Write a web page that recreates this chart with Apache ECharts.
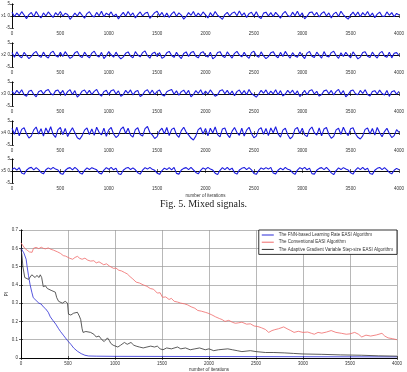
<!DOCTYPE html>
<html><head><meta charset="utf-8">
<script src="https://cdn.jsdelivr.net/npm/echarts@6/dist/echarts.min.js"></script>
<style>html,body{margin:0;padding:0;background:#fff}#c{width:407px;height:372px}</style>
</head><body><div id="c"></div>
<script>
// ---- Mixed signals (sampled every 25 iterations) ----
const mixedStep = 25;
const mixedNames = ['x1','x2','x3','x4','x5'];
const x1 = [1.6,-0.2,1.2,0.1,1.8,0.4,-1.1,0.6,1.5,-0.3,1.9,0.2,-0.8,1.3,0.0,1.7,0.5,-0.6,1.4,0.3,
1.9,-0.1,1.1,0.6,-1.4,-0.2,1.2,0.0,1.6,0.3,-0.9,1.0,1.8,0.2,-0.4,1.5,0.1,2.0,-0.3,1.2,
0.4,1.7,-0.2,0.8,-1.2,0.3,1.5,-0.1,1.9,0.2,1.3,-0.8,0.6,1.7,0.0,1.1,1.6,-1.0,0.2,1.4,
2.0,0.1,1.5,-0.4,1.2,-0.6,0.9,1.8,-0.1,1.3,0.4,-1.3,-0.2,1.4,0.3,1.9,-0.2,1.2,0.1,1.7,
0.5,-0.8,1.4,-0.1,1.9,0.3,-0.5,-1.4,0.6,1.5,0.0,1.2,1.7,0.1,2.1,0.2,1.3,-0.6,1.0,1.6,
-0.1,1.8,-0.3,-1.1,1.2,1.6,0.0,1.4,-0.2,1.5,0.4,-0.9,1.0,1.9,0.2,-0.3,1.6,0.1,2.0,-0.1,
1.3,-1.2,-0.1,1.4,1.7,0.2,1.5,-0.4,1.1,1.8,0.0,1.3,-0.8,0.9,1.6,-0.2,2.0,0.5,-0.5,-1.3,
0.4,1.6,0.1,1.7,-0.3,1.4,0.2,1.9,-0.1,1.2,-0.7,0.8,1.6,0.0,-0.2,1.7,0.3,1.4,-0.3,1.1,0.4];
const x2 = [1.0,-0.9,1.3,-0.4,-1.2,1.1,-0.2,-1.5,-0.6,0.8,1.5,-0.3,-1.0,1.2,-0.5,-1.3,0.9,1.6,-0.2,-0.9,
1.1,-0.6,1.4,-0.1,-1.4,-0.7,0.9,1.5,-0.4,-1.1,1.2,-0.3,-1.2,0.8,1.6,-0.2,-0.8,1.1,-1.5,-0.3,
1.4,0.1,-0.9,1.2,-0.5,-1.6,-0.8,0.7,1.3,-0.4,-1.2,1.4,0.0,-0.8,1.0,1.7,-0.3,-1.3,0.6,1.2,
-0.6,1.0,-1.4,-0.7,0.9,1.5,-0.2,-1.0,1.1,-0.4,-1.5,0.6,1.3,-0.6,1.0,1.5,-0.5,-1.2,0.8,1.4,
-0.2,-0.9,1.2,-1.6,-0.8,1.0,1.4,-0.4,-1.1,1.3,-0.1,-1.3,0.7,1.5,0.0,-0.8,1.1,-0.5,-1.4,1.0,
1.6,-0.2,-1.0,1.3,-0.4,-1.5,-0.7,0.9,1.4,-0.3,-1.2,1.1,-0.6,1.5,-0.1,-1.3,1.0,-0.4,-0.9,1.2,
-0.3,-1.5,0.8,1.5,-0.5,-1.0,1.2,-0.1,-1.3,1.4,-0.4,-0.8,1.0,1.6,-0.2,-1.4,0.9,-0.6,1.1,-0.2,
-1.2,1.3,-0.1,-1.6,-0.9,1.0,1.4,-0.5,-1.0,1.2,-0.3,-1.3,0.8,1.5,-0.4,-0.9,1.2,-1.2,0.7,1.0,-0.2];
const x3 = [1.2,-0.1,1.5,0.2,1.8,-0.3,-0.9,1.1,1.6,-0.2,-1.2,0.9,1.5,0.0,1.4,1.9,0.2,-0.4,1.3,1.7,
0.0,1.5,-0.6,1.0,1.8,-0.2,1.4,-1.3,-0.3,1.2,1.7,0.1,1.5,-0.2,1.1,1.9,0.0,-0.9,1.0,1.6,
-0.3,1.4,1.8,0.0,1.3,-1.0,-0.2,1.5,0.3,1.7,-0.4,1.0,1.5,-1.1,-0.3,1.2,1.8,0.1,1.6,-0.2,
1.1,1.7,-0.3,-0.8,0.9,1.5,1.9,-0.1,1.3,-0.5,1.0,1.6,0.0,1.5,-1.2,-0.2,1.4,0.2,1.8,-0.3,
1.2,0.0,1.7,0.3,-0.9,-0.3,1.4,1.8,0.1,1.5,-0.2,1.2,-0.7,1.0,1.7,0.0,1.4,-0.3,1.9,0.2,
-0.5,-1.3,0.0,1.5,0.3,1.7,-0.2,1.2,0.1,1.8,-0.3,1.4,-0.8,0.0,1.5,0.3,1.6,-0.2,1.3,-1.1,
0.1,1.5,-0.3,1.4,1.8,0.0,1.1,-0.9,-0.2,1.3,1.7,0.1,1.5,-0.4,1.1,1.9,0.0,1.4,-1.2,-0.2,
1.3,1.7,0.1,-0.3,1.5,0.2,1.8,-0.2,-0.8,1.0,1.4,0.0,1.6,0.2,-0.4,1.5,-1.0,0.9,1.4,-0.1,1.1];
const x4 = [2.0,-0.5,2.4,-1.2,1.5,2.2,-0.3,-2.1,-1.2,1.3,2.5,-0.4,1.8,-1.3,2.1,0.0,2.6,-0.6,-1.8,1.4,
2.3,-0.7,1.9,-1.5,0.5,2.2,0.1,-2.0,-2.6,-1.1,1.2,2.1,-0.6,1.7,-1.0,2.4,0.3,-0.8,2.0,-1.4,
1.3,2.3,-0.4,-1.9,-1.0,1.6,2.5,-0.2,2.0,-0.9,-1.7,1.4,2.2,-0.6,-1.3,1.8,2.7,0.2,-0.8,-2.3,
-1.5,0.9,2.0,-0.3,2.3,-1.1,1.5,2.1,-0.7,-1.8,1.0,2.4,0.4,-0.8,-2.1,-2.9,-1.3,1.4,2.2,-0.4,
1.9,-1.2,2.0,0.0,2.5,-0.7,-1.6,1.7,2.1,-0.6,-1.9,0.8,2.3,0.2,-1.0,2.0,-1.3,1.2,2.4,-0.2,
-2.0,-1.3,1.5,2.2,-0.5,1.9,-1.1,2.1,0.1,2.6,-0.4,-1.7,1.2,2.0,-0.7,-2.4,-1.5,1.6,2.3,-0.3,
2.0,-0.8,-1.5,1.4,2.5,0.1,-0.9,2.1,-1.2,1.7,2.3,-0.5,-2.2,-1.4,1.3,2.0,-0.6,2.4,0.2,-1.1,
1.8,2.2,-0.3,-1.8,-2.5,-1.2,1.5,2.1,-0.4,1.9,-0.9,2.3,0.1,-1.6,0.6,2.0,-0.2,-1.9,-1.1,1.4,0.3];
const x5 = [0.6,1.3,0.4,1.4,-0.8,-1.3,0.3,1.2,1.5,0.5,1.4,0.6,-0.6,-1.2,0.5,1.3,0.7,1.5,0.8,0.4,
-1.0,-1.4,0.2,1.1,1.4,0.5,1.5,0.7,-0.7,-1.3,0.3,1.3,0.6,1.4,0.9,0.5,-0.8,-1.2,0.4,1.4,
0.7,1.5,0.5,1.2,-1.1,-1.5,0.3,1.1,1.5,0.6,1.3,0.5,-0.7,-1.3,0.4,1.4,0.8,1.5,0.7,0.3,
-0.9,-1.4,0.2,1.2,0.6,1.4,0.5,1.5,-1.0,-1.3,0.4,1.1,1.4,0.6,1.5,0.5,-0.6,-1.2,0.3,1.3,
0.7,1.5,0.8,0.4,-0.9,-1.5,0.3,1.4,0.6,1.5,0.5,1.2,-0.7,-1.3,0.4,1.1,1.5,0.6,1.4,0.5,
-1.0,-1.4,0.2,1.3,0.7,1.4,0.8,1.5,-0.8,-1.2,0.3,1.2,0.5,1.5,0.7,0.4,-0.7,-1.4,0.4,1.4,
0.8,1.5,0.5,1.2,-1.1,-1.3,0.3,1.1,1.4,0.6,1.5,0.5,-0.8,-1.5,0.2,1.3,0.6,1.4,0.8,0.4,
-0.7,-1.3,0.4,1.4,0.6,1.5,0.5,1.2,-1.0,-1.4,0.3,1.1,1.5,0.6,1.4,0.5,-0.6,-1.2,0.3,1.1,0.5];
const signals = [x1,x2,x3,x4,x5];

// ---- Performance index curves: [iteration, PI] ----
const seriesNames = ['The FNN-based Learning Rate EASI Algorithm','The Conventional EASI Algorithm','The Adaptive Gradient Variable Step-size EASI Algorithm'];
const fnnPI = [[0,0.60],[15,0.59],[30,0.575],[45,0.57],[55,0.54],[65,0.50],[80,0.45],[97,0.40],[115,0.36],[130,0.33],[160,0.315],[190,0.30],[215,0.295],[237,0.28],[260,0.27],[290,0.25],[312,0.225],[340,0.205],[370,0.185],[400,0.16],[420,0.145],[450,0.125],[470,0.115],[495,0.095],[530,0.075],[560,0.055],[600,0.037],[640,0.024],[680,0.015],[720,0.011],[800,0.01],[1000,0.009],[2000,0.008],[3000,0.007],[4000,0.006]];
const convPI = [[0,0.63],[20,0.62],[40,0.60],[64,0.59],[90,0.58],[118,0.578],[133,0.60],[160,0.605],[190,0.598],[215,0.606],[237,0.60],[260,0.597],[290,0.602],[320,0.594],[345,0.59],[365,0.592],[390,0.58],[420,0.572],[450,0.56],[475,0.557],[495,0.55],[520,0.545],[550,0.54],[575,0.55],[600,0.556],[625,0.545],[650,0.54],[680,0.546],[710,0.535],[740,0.53],[775,0.532],[800,0.52],[830,0.526],[850,0.518],[880,0.51],[910,0.515],[940,0.503],[957,0.50],[985,0.49],[1010,0.492],[1040,0.48],[1070,0.476],[1100,0.468],[1130,0.46],[1160,0.445],[1190,0.432],[1225,0.415],[1260,0.41],[1300,0.40],[1340,0.392],[1375,0.38],[1410,0.376],[1450,0.355],[1480,0.357],[1505,0.332],[1540,0.334],[1575,0.32],[1600,0.326],[1630,0.31],[1665,0.306],[1700,0.30],[1740,0.296],[1775,0.29],[1810,0.28],[1850,0.272],[1880,0.26],[1920,0.256],[1960,0.25],[1990,0.245],[2030,0.236],[2070,0.225],[2110,0.216],[2140,0.21],[2170,0.20],[2210,0.206],[2250,0.195],[2280,0.19],[2310,0.192],[2350,0.196],[2400,0.185],[2440,0.187],[2480,0.175],[2520,0.172],[2560,0.165],[2600,0.156],[2635,0.14],[2670,0.15],[2700,0.155],[2740,0.16],[2795,0.17],[2830,0.16],[2870,0.15],[2905,0.14],[2950,0.146],[3000,0.14],[3050,0.142],[3090,0.135],[3120,0.13],[3160,0.14],[3200,0.136],[3250,0.142],[3300,0.15],[3350,0.14],[3410,0.135],[3460,0.13],[3500,0.132],[3550,0.14],[3590,0.13],[3625,0.115],[3670,0.125],[3720,0.12],[3780,0.126],[3840,0.135],[3870,0.12],[3905,0.11],[3950,0.106],[4000,0.10]];
const adaptPI = [[0,0.60],[10,0.56],[20,0.50],[30,0.47],[40,0.44],[60,0.445],[80,0.43],[97,0.44],[115,0.455],[130,0.45],[150,0.44],[170,0.452],[190,0.44],[205,0.455],[220,0.44],[237,0.39],[260,0.395],[280,0.38],[300,0.386],[320,0.37],[340,0.366],[365,0.36],[380,0.33],[400,0.31],[420,0.32],[440,0.30],[470,0.31],[495,0.30],[505,0.24],[530,0.235],[560,0.245],[580,0.255],[600,0.25],[620,0.23],[635,0.21],[650,0.16],[660,0.14],[690,0.145],[710,0.135],[740,0.14],[775,0.13],[800,0.115],[830,0.12],[860,0.10],[885,0.09],[905,0.10],[920,0.11],[940,0.095],[955,0.08],[980,0.07],[1000,0.065],[1030,0.06],[1060,0.07],[1080,0.08],[1100,0.085],[1130,0.075],[1150,0.08],[1170,0.085],[1200,0.07],[1225,0.065],[1260,0.06],[1300,0.055],[1340,0.06],[1380,0.065],[1420,0.06],[1450,0.065],[1480,0.05],[1510,0.045],[1550,0.055],[1600,0.05],[1665,0.06],[1700,0.05],[1750,0.055],[1800,0.045],[1850,0.05],[1900,0.055],[1960,0.045],[2000,0.05],[2050,0.04],[2100,0.045],[2200,0.05],[2250,0.045],[2300,0.04],[2350,0.035],[2440,0.04],[2500,0.035],[2600,0.03],[2690,0.03],[2800,0.028],[2900,0.025],[3000,0.022],[3200,0.02],[3400,0.017],[3625,0.015],[3800,0.012],[4000,0.01]];
const piCurves = [fnnPI, convPI, adaptPI];
const piColors = ['#2b2bd6','#f06a6a','#333333'];

const font = 'Liberation Sans, Arial, sans-serif';
const lblColor = '#333';
const plain = v => String(v);
const tops = [4,43,82,121,159];
const grids = [], xAxes = [], yAxes = [], series = [];
const axLine = {show:true, lineStyle:{color:'#000', width:0.8}};
const tick = {show:true, inside:true, length:2, lineStyle:{color:'#000', width:0.6}};

tops.forEach((t,i)=>{
  grids.push({left:12, right:8, top:t, height:24, outerBoundsMode:'none', containLabel:false});
  xAxes.push({type:'value', gridIndex:i, min:0, max:4000, interval:500, position:'bottom',
    axisLine:axLine, axisTick:tick, splitLine:{show:false},
    axisLabel:{fontSize:4.5, color:lblColor, margin:3, fontFamily:font, formatter:plain},
    name: i===4 ? 'number of iterations' : '', nameLocation:'middle', nameGap:10, nameMoveOverlap:false,
    nameTextStyle:{fontSize:4.5, color:lblColor, fontFamily:font}});
  xAxes.push({type:'value', gridIndex:i, min:0, max:4000, interval:500, position:'top',
    axisLine:axLine, axisTick:tick, splitLine:{show:false}, axisLabel:{show:false}});
  yAxes.push({type:'value', gridIndex:i, min:-5, max:5, interval:5, position:'left',
    axisLine:axLine, axisTick:tick, splitLine:{show:false},
    axisLabel:{fontSize:4.5, color:lblColor, margin:2, fontFamily:font},
    name: mixedNames[i], nameLocation:'middle', nameRotate:0, nameGap:6, nameMoveOverlap:false,
    nameTextStyle:{fontSize:4.5, color:lblColor, fontFamily:font, align:'right', verticalAlign:'middle'}});
  yAxes.push({type:'value', gridIndex:i, min:-5, max:5, interval:5, position:'right',
    axisLine:axLine, axisTick:tick, splitLine:{show:false}, axisLabel:{show:false}});
  series.push({type:'line', xAxisIndex:2*i, yAxisIndex:2*i, silent:true, showSymbol:false,
    data: signals[i].map((v,k)=>[k*mixedStep, v]),
    lineStyle:{color:'#1c1ce0', width:1.1}});
});

// bottom chart
grids.push({left:21, right:10, top:230, height:128, outerBoundsMode:'none', containLabel:false});
xAxes.push({type:'value', gridIndex:5, min:0, max:4000, interval:500, position:'bottom',
  axisLine:axLine, axisTick:tick,
  splitLine:{show:true, lineStyle:{color:'#9a9a9a', width:0.7}},
  axisLabel:{fontSize:4.5, color:lblColor, margin:3, fontFamily:font, formatter:plain},
  name:'number of iterations', nameLocation:'middle', nameGap:9, nameMoveOverlap:false,
  nameTextStyle:{fontSize:4.5, color:lblColor, fontFamily:font}});
xAxes.push({type:'value', gridIndex:5, min:0, max:4000, interval:500, position:'top',
  axisLine:axLine, axisTick:tick, splitLine:{show:false}, axisLabel:{show:false}});
yAxes.push({type:'value', gridIndex:5, min:0, max:0.7, interval:0.1, position:'left',
  axisLine:axLine, axisTick:tick,
  splitLine:{show:true, lineStyle:{color:'#9a9a9a', width:0.7}},
  axisLabel:{fontSize:4.5, color:lblColor, margin:3, fontFamily:font},
  name:'PI', nameLocation:'middle', nameGap:12, nameRotate:90, nameMoveOverlap:false,
  nameTextStyle:{fontSize:4.5, color:lblColor, fontFamily:font}});
yAxes.push({type:'value', gridIndex:5, min:0, max:0.7, interval:0.1, position:'right',
  axisLine:axLine, axisTick:tick, splitLine:{show:false}, axisLabel:{show:false}});
piCurves.forEach((d,j)=>{
  series.push({name:seriesNames[j], type:'line', xAxisIndex:10, yAxisIndex:10, silent:true,
    showSymbol:false, data:d, lineStyle:{color:piColors[j], width:0.8}, itemStyle:{color:piColors[j]}});
});

const chart = echarts.init(document.getElementById('c'), null, {renderer:'canvas'});
chart.setOption({
  animation:false,
  backgroundColor:'#fff',
  grid:grids, xAxis:xAxes, yAxis:yAxes, series:series,
  legend:{data:seriesNames, orient:'vertical', right:10, top:230, icon:'rect',
    itemWidth:12, itemHeight:1, itemGap:2.2, padding:[2.5,4,2.5,3],
    borderColor:'#000', borderWidth:0.8, backgroundColor:'#fff',
    textStyle:{fontSize:4.5, color:'#333', fontFamily:font}},
  graphic:[{type:'text', left:'center', top:199,
    style:{text:'Fig. 5. Mixed signals.', font:'10px "Liberation Serif", serif', fill:'#222'}}]
});
</script></body></html>
